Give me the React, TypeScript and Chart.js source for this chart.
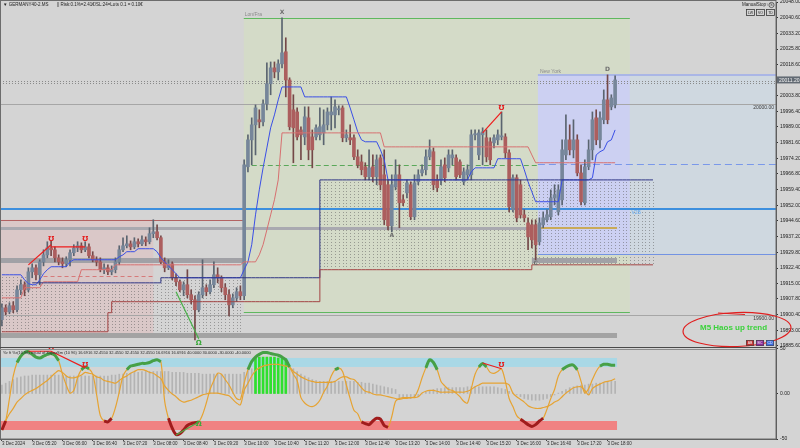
import React, { useEffect, useRef } from "react";
import { Chart, registerables } from "chart.js";

Chart.register(...registerables);

const FONT = '"Liberation Sans", Arial, sans-serif';

// ---------- time axis ----------
const timeTickLabels = ["3 Dec 2024","3 Dec 05:20","3 Dec 06:00","3 Dec 06:40","3 Dec 07:20","3 Dec 08:00","3 Dec 08:40","3 Dec 09:20","3 Dec 10:00","3 Dec 10:40","3 Dec 11:20","3 Dec 12:00","3 Dec 12:40","3 Dec 13:20","3 Dec 14:00","3 Dec 14:40","3 Dec 15:20","3 Dec 16:00","3 Dec 16:40","3 Dec 17:20","3 Dec 18:00"];
const barsPerTick = 8;
const slotCount = 205;

// ---------- M5 candles ----------
const openP = [
19898.0,19903.6,19901.7,19904.6,19902.7,19912.1,19914.5,19912.1,19920.6,19922.5,
19919.2,19925.3,19928.6,19931.9,19931.0,19927.2,19925.3,19924.4,19926.3,19929.6,
19931.9,19932.9,19931.0,19932.4,19928.2,19926.3,19925.3,19921.6,19922.5,19920.6,
19921.6,19925.3,19931.0,19932.9,19933.8,19932.4,19934.8,19933.8,19935.7,19934.8,
19938.6,19939.5,19936.7,19925.3,19922.5,19924.4,19917.8,19915.9,19912.1,19914.5,
19909.8,19907.4,19902.7,19909.8,19913.1,19911.2,19914.5,19919.2,19917.8,19913.1,
19909.8,19905.0,19908.3,19911.2,19909.3,19970.2,19982.9,19990.0,19992.4,19991.4,
19999.9,20009.4,20016.9,20015.0,20018.8,20024.5,20011.2,19997.1,19996.1,19987.6,
19984.3,19993.3,19984.3,19984.3,19985.3,19986.2,19990.0,19994.7,19994.7,19997.1,
19998.0,19983.9,19983.9,19983.9,19974.9,19972.5,19970.2,19965.5,19970.2,19965.5,
19974.4,19966.4,19961.7,19942.3,19960.7,19966.4,19954.6,19957.9,19961.7,19946.6,
19963.1,19967.3,19968.8,19974.9,19977.3,19964.0,19964.0,19971.1,19969.7,19974.4,
19974.4,19972.5,19963.1,19966.4,19966.4,19985.3,19975.8,19985.3,19983.9,19982.0,
19981.5,19982.9,19984.3,19984.3,19976.8,19949.9,19965.0,19961.7,19947.5,19943.7,
19942.8,19942.8,19934.8,19942.8,19945.2,19946.6,19955.5,19948.9,19954.6,19975.8,
19982.9,19978.2,19982.9,19967.3,19953.2,19970.2,19978.2,19993.3,19982.9,19992.4,
20001.8,19998.5,19999.4];
const highP = [
19905.5,19905.0,19906.0,19906.5,19914.0,19916.8,19915.9,19922.5,19924.4,19923.9,
19926.3,19931.0,19934.8,19935.2,19932.4,19928.6,19927.2,19927.7,19931.0,19933.4,
19934.8,19934.3,19934.8,19933.8,19930.1,19927.7,19927.2,19924.4,19923.9,19923.4,
19927.2,19932.9,19936.7,19937.6,19935.2,19936.7,19936.2,19937.6,19937.1,19941.4,
19945.2,19942.8,19937.6,19927.2,19926.3,19925.3,19919.7,19916.8,19915.9,19921.6,
19912.1,19909.3,19911.2,19926.3,19914.5,19916.8,19925.3,19922.5,19918.7,19915.0,
19912.1,19910.2,19913.1,19914.0,19973.5,19985.3,19993.3,19999.4,19997.1,20001.8,
20019.3,20019.7,20019.7,20020.7,20040.5,20031.1,20012.2,20004.2,19998.0,19989.1,
19998.5,19998.5,19987.6,19990.0,19998.0,19997.1,19998.0,20003.2,20001.8,19999.0,
19999.0,19987.6,19990.0,19985.3,19978.2,19975.8,19972.1,19978.2,19975.8,19975.8,
19975.8,19978.2,19964.0,19966.4,19973.5,19971.1,19957.0,19964.0,19963.1,19966.4,
19968.8,19971.1,19978.2,19982.9,19979.1,19966.4,19973.5,19974.4,19978.2,19978.2,
19975.8,19973.5,19969.7,19971.1,19987.6,19987.6,19987.6,19988.6,19987.6,19983.9,
19985.3,19987.6,19996.1,19985.8,19978.2,19966.4,19966.4,19964.0,19949.9,19946.1,
19945.2,19945.2,19946.1,19948.9,19949.9,19959.3,19961.7,19961.7,19982.9,19994.7,
19990.0,19992.4,19985.3,19971.1,19973.5,19982.9,19996.1,19997.1,19996.1,20006.5,
20013.6,20004.2,20013.1];
const lowP = [
19895.1,19900.3,19900.8,19901.3,19901.7,19909.8,19909.3,19911.2,19917.8,19916.8,
19914.5,19923.4,19927.2,19928.2,19925.3,19923.9,19922.5,19923.0,19923.4,19928.2,
19930.1,19929.6,19930.1,19927.2,19925.3,19923.4,19920.6,19919.7,19919.2,19919.2,
19920.1,19923.9,19930.1,19931.9,19931.0,19931.5,19932.4,19932.9,19932.9,19933.8,
19936.7,19935.7,19924.4,19920.6,19921.6,19916.8,19914.0,19911.2,19909.3,19908.3,
19905.5,19888.5,19901.7,19908.3,19909.3,19910.2,19913.1,19915.4,19911.2,19907.4,
19899.8,19903.6,19906.5,19907.4,19907.4,19967.8,19971.1,19975.8,19988.6,19989.5,
19997.1,20004.2,20012.2,20011.2,20016.9,20003.2,19987.6,19972.1,19982.9,19973.5,
19980.6,19973.5,19969.7,19982.9,19982.9,19980.6,19987.6,19987.6,19988.6,19994.7,
19982.0,19982.0,19980.6,19973.5,19969.7,19966.4,19964.0,19964.0,19963.1,19961.7,
19959.3,19942.8,19940.4,19939.5,19959.3,19941.4,19951.8,19955.5,19945.2,19945.2,
19961.7,19965.9,19966.4,19973.5,19959.3,19958.4,19961.7,19963.1,19967.8,19971.1,
19964.0,19965.0,19961.7,19964.0,19964.0,19982.9,19973.5,19971.1,19972.5,19971.1,
19979.1,19980.6,19982.9,19974.4,19948.9,19948.9,19944.2,19946.1,19944.2,19931.0,
19931.9,19926.3,19933.4,19941.4,19944.2,19945.2,19952.2,19947.5,19952.2,19973.5,
19975.8,19974.4,19965.9,19952.2,19952.2,19968.8,19973.5,19980.6,19979.1,19990.5,
19990.5,19997.1,19998.0];
const closeP = [
19903.6,19901.7,19904.6,19902.7,19912.1,19914.5,19912.1,19920.6,19922.5,19919.2,
19925.3,19928.6,19931.9,19931.0,19927.2,19925.3,19924.4,19926.3,19929.6,19931.9,
19932.9,19931.0,19932.4,19928.2,19926.3,19925.3,19921.6,19922.5,19920.6,19921.6,
19925.3,19931.0,19932.9,19933.8,19932.4,19934.8,19933.8,19935.7,19934.8,19938.6,
19939.5,19936.7,19925.3,19922.5,19924.4,19917.8,19915.9,19912.1,19914.5,19909.8,
19907.4,19902.7,19909.8,19913.1,19911.2,19914.5,19919.2,19917.8,19913.1,19909.8,
19905.0,19908.3,19911.2,19909.3,19971.1,19982.9,19990.0,19998.0,19991.4,19999.9,
20009.4,20016.9,20015.0,20018.8,20024.0,20011.2,19989.1,19988.6,19984.3,19985.3,
19993.8,19978.2,19978.2,19988.6,19989.1,19990.0,19996.1,19996.1,19998.5,19997.6,
19983.9,19985.3,19982.9,19974.9,19971.1,19968.8,19965.5,19969.7,19965.5,19973.5,
19961.7,19945.2,19942.3,19961.7,19966.4,19953.2,19953.2,19962.6,19946.6,19962.6,
19966.4,19968.8,19974.9,19978.2,19961.7,19960.3,19970.2,19965.0,19975.8,19975.8,
19965.5,19966.4,19967.8,19968.8,19985.3,19985.8,19986.2,19986.7,19974.9,19973.5,
19983.9,19985.3,19984.8,19976.8,19951.3,19965.0,19946.1,19947.5,19946.1,19937.1,
19935.7,19933.4,19943.7,19946.1,19947.5,19955.5,19957.0,19959.3,19978.2,19982.9,
19978.2,19982.9,19967.3,19953.7,19970.2,19978.2,19992.4,19982.9,19993.3,20001.8,
19992.4,20002.7,20011.2];

// ---------- trailing lines ----------
const blueTrail = [
19919.2,19919.2,19919.2,19919.2,19919.2,19919.2,19916.8,19915.0,19914.5,19914.5,
19916.8,19919.7,19921.6,19923.0,19923.0,19923.0,19923.0,19923.0,19925.3,19926.3,
19926.3,19926.3,19926.3,19926.3,19926.3,19926.3,19926.3,19926.3,19926.3,19926.3,
19926.3,19927.7,19928.6,19930.1,19930.1,19930.1,19931.5,19931.5,19931.5,19931.5,
19931.5,19930.1,19927.2,19925.3,19923.4,19921.6,19919.7,19917.8,19917.8,19917.8,
19917.8,19917.8,19917.8,19917.8,19917.8,19917.8,19917.8,19917.8,19917.8,19917.8,
19917.8,19917.8,19917.8,19917.8,19921.6,19925.3,19933.4,19947.5,19959.3,19969.7,
19979.1,19988.6,19994.7,20001.8,20007.9,20007.9,20007.9,20007.9,20007.9,20007.9,
20003.2,20003.2,20003.2,20003.2,20003.2,20003.2,20003.2,20003.2,20003.2,20003.2,
20003.2,20003.2,19998.0,19992.4,19986.7,19982.9,19982.0,19982.0,19982.0,19982.0,
19978.2,19973.5,19964.0,19964.0,19964.0,19964.0,19964.0,19964.0,19964.0,19964.0,
19964.0,19964.0,19964.0,19964.0,19964.0,19964.0,19964.0,19964.0,19964.0,19964.0,
19964.0,19964.0,19964.0,19964.0,19967.8,19969.7,19969.7,19969.7,19969.7,19969.7,
19969.7,19974.0,19974.0,19974.0,19974.0,19974.0,19974.0,19974.0,19968.8,19963.1,
19958.4,19953.7,19953.7,19953.7,19953.7,19953.7,19953.7,19953.7,19964.0,19964.0,
19964.0,19964.0,19964.0,19964.0,19964.0,19964.0,19965.0,19975.8,19977.3,19978.2,
19982.0,19982.9,19987.6];
const salmonTrail = [
19908.3,19908.3,19908.3,19908.3,19908.3,19908.3,19913.1,19913.1,19913.1,19913.1,
19913.1,19915.9,19915.9,19915.9,19915.9,19915.9,19915.9,19915.9,19915.9,19915.9,
19915.9,19921.6,19921.6,19921.6,19921.6,19921.6,19921.6,19921.6,19921.6,19921.6,
19923.9,19923.9,19923.9,19923.9,19923.9,19923.9,19923.9,19923.9,19923.9,19923.9,
19923.9,19923.9,19923.9,19923.9,19923.9,19923.9,19923.9,19923.9,19923.9,19923.9,
19923.9,19923.9,19923.9,19923.9,19923.9,19923.9,19923.9,19923.9,19923.9,19923.9,
19923.9,19923.9,19923.9,19923.9,19925.3,19925.3,19925.3,19925.3,19928.6,19933.4,
19940.4,19947.5,19954.6,19964.0,19986.2,19986.2,19986.2,19986.2,19986.2,19986.2,
19986.2,19986.2,19986.2,19986.2,19986.2,19986.2,19986.2,19986.2,19986.2,19986.2,
19986.2,19986.2,19986.2,19986.2,19986.2,19986.2,19986.2,19986.2,19986.2,19986.2,
19986.2,19979.6,19979.6,19979.6,19979.6,19979.6,19979.6,19979.6,19979.6,19979.6,
19979.6,19979.6,19979.6,19979.6,19979.6,19979.6,19979.6,19979.6,19979.6,19979.6,
19979.6,19979.6,19979.6,19979.6,19979.6,19979.6,19979.6,19979.6,19979.6,19979.6,
19979.6,19979.6,19979.6,19979.6,19979.6,19979.6,19979.6,19979.6,19979.6,19979.6,
19975.8,19972.1,19972.1,19972.1,19972.1,19972.1,19972.1,19972.1,19972.1,19972.1,
19972.1,19972.1,19972.1,19972.1,19972.1,19972.1,19972.1,19972.1,19972.1,19972.1,
19972.1,19972.1,19972.1];
// stepped range boundaries (bar index ranges)
const lowerLevels = [
  { from: 0, to: 27, price: 19892.3 },
  { from: 28, to: 28, price: 19901.3 },
  { from: 29, to: 83, price: 19906.5 },
  { from: 84, to: 139, price: 19921.6 },
  { from: 140, to: 172, price: 19923.9 },
];
const rangeTopLevels = [
  { from: 8, to: 41, price: 19915.4 },
  { from: 42, to: 83, price: 19917.8 },
  { from: 84, to: 172, price: 19964.0 },
];

// ---------- price axis & levels ----------
const priceTicks = [20048.0,20040.6,20033.2,20025.8,20018.6,20003.8,19996.4,19989.0,19981.6,19974.2,19966.8,19959.4,19952.0,19944.6,19937.2,19929.8,19922.4,19915.0,19907.8,19900.4,19893.0,19885.6];
const priceMin = 19885.1;
const priceMax = 20048.0;
const lastPrice = 20011.2;
const bidAskLines = [20010.8, 20009.6];
const roundLevels = [20000, 19900];
const v2bLevel = 19950.4;
const lonOpenLevel = 19971.1;
const nyOpenLevel = 19971.6;
const midBandLevel = 19941.4;
const lowBandLevel = 19926.3;
const floorBandLevel = 19890.9;
const asiaTopLevel = 19945.2;
const asiaMidLevel = 19918.7;

// sessions (bar-index extents, price extents)
const asiaBox = { from: -0.5, to: 40, top: 19945.2, bottom: 19890.9 };
const lonBox = { from: 63.9, to: 165.9, top: 20040.5, bottom: 19901.7 };
const nyBox = { from: 141.6, to: 165.9, top: 20013.6, bottom: 19929.1 };

// patterns / signals
const waveLabels = [
  { text: "X", bar: 74, side: "high" },
  { text: "A", bar: 103, side: "low" },
  { text: "C", bar: 141, side: "low" },
  { text: "D", bar: 160, side: "high" },
];
const priceDivRed = [[7, 19923.9], [13, 19933.4]];
const priceDivRedFlat = [[13, 19932.4], [22, 19932.4]];
const priceDivRed2 = [[127, 19986.2], [132, 19996.1]];
const priceDivGreen = [[46, 19911.2], [52, 19889.0]];
const priceTopMarks = [[13, 19936.2], [22, 19936.2], [132, 19997.8]];
const priceBottomMarks = [[52, 19886.9]];

// ---------- oscillator ----------
const oscFast = [
-40,-30,-5,20,35,42,46,47,44,41,
40,42,44,45,43,37,22,10,1,4,
18,27,30,28,22,0,-24,-30,-31,-27,
-15,2,20,27,31,32,33,34,34,35,
37,38,36,-8,-27,-38,-45,-44,-40,-35,
-33,-32,-31,-23,-10,5,15,23,22,16,
10,2,-5,-6,12,27,36,41,44,46,
46,45,44,43,41,38,30,22,15,-4,
-10,-13,-14,-12,-7,2,9,20,27,29,
25,10,-5,-18,-22,-31,-33,-34,-30,-27,
-28,-35,-37,-25,-8,-5,-4,-4,-4,-3,
5,18,29,38,35,27,14,9,5,4,
1,-3,-8,-10,6,22,30,34,30,24,
23,25,28,14,-5,-14,-24,-28,-31,-34,
-36,-34,-30,-27,-17,-5,5,20,27,30,
32,32,27,14,1,6,16,25,31,33,
33,32,32];
const oscSlow = [
-40,-30,-22,-16,-9,-5,-1,2,4,6,
9,12,15,19,23,26,24,20,18,18,
19,21,24,23,22,19,18,15,14,13,
12,15,18,20,23,25,27,27,26,24,
23,20,17,9,4,0,-3,-7,-9,-8,
-7,-5,-3,-1,0,1,1,1,0,-1,
-2,-6,-10,-12,4,12,20,26,29,31,
32,33,33,33,32,31,30,25,22,19,
17,15,14,13,13,13,13,13,14,17,
19,19,17,16,12,7,3,2,0,-1,
-1,-2,-3,-4,-5,-6,-5,-5,-4,-4,
-3,1,3,4,4,3,2,2,2,2,
2,2,2,3,5,8,10,12,12,12,
12,12,12,12,10,1,-3,-6,-9,-13,
-15,-16,-16,-15,-14,-12,-9,-7,-3,1,
4,7,8,8,4,-1,6,9,11,13,
14,15,17];
const oscHist = [
10,12,14,16,18,19,20,20,21,21,21,
21,21,21,21,21,21,20,20,20,20,20,20,20,20,20,
20,20,20,21,21,22,22,23,23,24,24,25,25,25,25,
25,25,25,25,24,24,24,24,23,23,23,23,22,22,22,22,22,22,22,22,22,22,22,
24,26,28,30,31,32,33,33,33,33,32,31,30,
28,25,22,20,18,16,15,14,14,14,14,14,14,14,14,14,14,13,13,12,12,11,10,9,8,7,6,5,
-4,-5,-5,-5,-4,-3,
0,2,4,5,6,6,7,7,7,7,7,7,8,8,8,8,8,8,8,8,7,6,5,3,
1,-1,-3,-5,-6,-7,-7,-7,-6,-5,-3,-1,
1,3,5,7,8,9,10,10,11,11,12,12,13,13,14,14];
const strongFrom = 67;
const strongBars = [40, 41, 41, 41, 41, 41, 40, 40, 39];
const oscTicks = [50, 0, -50];
const oscUpperBand = [30, 40];
const oscLowerBand = [-30, -40];
const oscMin = -50;
const oscMax = 52.2;
const oscDivRed = [[7, 47.5], [13, 47.5], [22, 29]];
const oscDivRed2 = [[127, 34.4], [132, 28]];
const oscDivGreen = [[46, -45.6], [52, -31]];
const oscTopMarks = [[13, 50.5], [22, 32.5], [132, 32.5]];
const oscBottomMarks = [[52, -34]];
const oscCaption = "%r ft %r(10,96) equal of SuperSm (10 96) 16.6916 32.4550 32.4550 32.4550 32.4550 16.6916 16.6916 40.0000 30.0000 -30.0000 -40.0000";

// ---------- derived tables for the library ----------
const categories = Array.from({ length: slotCount }, (_, i) =>
  i % barsPerTick === 0 && i / barsPerTick < timeTickLabels.length ? timeTickLabels[i / barsPerTick] : ""
);
const tickIdx = timeTickLabels.map((_, k) => k * barsPerTick);
const fromLevels = (levels: any[]) => {
  const arr: (number | null)[] = Array(173).fill(null);
  levels.forEach((l) => { for (let i = l.from; i <= l.to; i++) arr[i] = l.price; });
  return arr;
};
const lowerStep = fromLevels(lowerLevels);
const rangeTop = fromLevels(rangeTopLevels);
const isBull = openP.map((o, i) => closeP[i] >= o);
const strongArr: (number | null)[] = oscFast.map(() => null);
strongBars.forEach((v, k) => (strongArr[strongFrom + k] = v));

const mtPlugin: any = {
  id: "mt",
  beforeDraw(chart: any) {
    const { ctx } = chart;
    ctx.save();
    ctx.fillStyle = "#d4d4d4";
    ctx.fillRect(0, 0, chart.width, chart.height);
    ctx.restore();
  },
  beforeDatasetsDraw(chart: any) {
    const { ctx, chartArea } = chart;
    const xs = chart.scales.x, ys = chart.scales.y, yo = chart.scales.yo;
    const X = (i: number) => xs.getPixelForValue(i);
    const Y = (p: number) => ys.getPixelForValue(p);
    const O = (v: number) => yo.getPixelForValue(v);
    const L = chartArea.left, R = chartArea.right;
    const endI = slotCount - 0.5;

    ctx.save();
    ctx.beginPath();
    ctx.rect(L, ys.top, R - L, ys.bottom - ys.top);
    ctx.clip();
    const box = (b: any, fill: string) => {
      const x0 = X(b.from), x1 = X(b.to), y0 = Y(b.top), y1 = Y(b.bottom);
      ctx.fillStyle = fill;
      ctx.fillRect(x0, y0, x1 - x0, y1 - y0);
    };
    box(asiaBox, "#dac8c8");
    box(lonBox, "#d4dbc8");
    box(nyBox, "#ccd0f2");
    box({ from: nyBox.to, to: endI, top: nyBox.top, bottom: nyBox.bottom }, "#cfd8e0");

    // dotted range zones
    ctx.fillStyle = "rgba(90,90,90,0.5)";
    for (let i = 0; i <= 172; i++) {
      let top: number, bot: number;
      if (i <= 63) { top = Y(rangeTop[i] ?? 19919.2); bot = Y(19891.5); }
      else if (i >= 84) { top = Y(rangeTop[i] as number); bot = Y(lowerStep[i] as number); }
      else continue;
      const x = Math.round(X(i));
      for (let y = top + 2; y < bot - 1; y += 3) ctx.fillRect(x, Math.round(y), 1, 1);
    }

    const hline = (p: number, from: number, to: number, color: string, w: number, dash: number[] = []) => {
      const y = Math.round(Y(p)) + (w % 2 ? 0.5 : 0);
      ctx.beginPath();
      ctx.strokeStyle = color;
      ctx.lineWidth = w;
      ctx.setLineDash(dash);
      ctx.moveTo(X(from), y);
      ctx.lineTo(X(to), y);
      ctx.stroke();
      ctx.setLineDash([]);
    };
    roundLevels.forEach((p) => hline(p, -0.5, endI, "#a6a6a6", 1));
    bidAskLines.forEach((p) => hline(p, -0.5, endI, "#8a8a8a", 1, [1, 2]));
    hline(floorBandLevel, -0.5, 162.5, "#a3a3a3", 5);
    hline(lowBandLevel, -0.5, 64, "#a1a1a6", 5);
    hline(lowBandLevel, 140, 162.5, "#a1a1a6", 5);
    hline(midBandLevel, -0.5, 140, "#a9a9b0", 3);
    hline(midBandLevel, 141.6, 162.5, "#c9aa58", 2);
    hline(asiaTopLevel, -0.5, 64, "#b36262", 1);
    hline(asiaMidLevel, 11, 40, "#d67a7a", 1, [4, 3]);
    hline(v2bLevel, -0.5, endI, "#3d8fde", 2);
    hline(lonOpenLevel, lonBox.from, nyBox.from, "#5aa85a", 1, [5, 3]);
    hline(nyOpenLevel, nyBox.from, endI, "#7a98ea", 1, [7, 4]);
    hline(lonBox.top, lonBox.from, lonBox.to, "#5fb85f", 1);
    hline(lonBox.bottom, lonBox.from, lonBox.to, "#5fb85f", 1);
    hline(nyBox.top, nyBox.from, endI, "#aab6e6", 2);
    hline(nyBox.bottom, nyBox.from, endI, "#7393e3", 1);
    ctx.restore();

    // oscillator bands
    ctx.save();
    ctx.beginPath();
    ctx.rect(L, yo.top, R - L, yo.bottom - yo.top);
    ctx.clip();
    const band = (b: number[], color: string) => {
      const y0 = O(b[1]), y1 = O(b[0]);
      ctx.fillStyle = color;
      ctx.fillRect(X(-0.5), Math.min(y0, y1), X(162.5) - X(-0.5), Math.abs(y1 - y0));
    };
    band(oscUpperBand, "#a9d8e6");
    band(oscLowerBand, "#f08282");
    ctx.restore();
  },
  afterDatasetsDraw(chart: any) {
    const { ctx, chartArea } = chart;
    const xs = chart.scales.x, ys = chart.scales.y, yo = chart.scales.yo;
    const X = (i: number) => xs.getPixelForValue(i);
    const Y = (p: number) => ys.getPixelForValue(p);
    const O = (v: number) => yo.getPixelForValue(v);
    const poly = (pts: number[][], conv: (v: number) => number, color: string) => {
      ctx.beginPath();
      ctx.strokeStyle = color;
      ctx.lineWidth = 1.2;
      pts.forEach((p, k) => (k ? ctx.lineTo(X(p[0]), conv(p[1])) : ctx.moveTo(X(p[0]), conv(p[1]))));
      ctx.stroke();
    };
    const glyph = (t: string, x: number, y: number, color: string, size: number, bold = true) => {
      ctx.font = `${bold ? "bold " : ""}${size}px "DejaVu Sans", ${FONT}`;
      ctx.fillStyle = color;
      ctx.textAlign = "center";
      ctx.textBaseline = "middle";
      ctx.fillText(t, x, y);
    };
    ctx.save();
    ctx.beginPath();
    ctx.rect(chartArea.left, ys.top, chartArea.right - chartArea.left, ys.bottom - ys.top);
    ctx.clip();
    poly(priceDivRed, Y, "#ee1c1c");
    poly(priceDivRedFlat, Y, "#ee1c1c");
    poly(priceDivRed2, Y, "#ee1c1c");
    poly(priceDivGreen, Y, "#48b048");
    priceTopMarks.forEach((m) => glyph("\u2127", X(m[0]), Y(m[1]), "#e41e1e", 7));
    priceBottomMarks.forEach((m) => glyph("\u03A9", X(m[0]), Y(m[1]), "#3aa83a", 7));
    waveLabels.forEach((w) => {
      const i = w.bar;
      const y = w.side === "high" ? Y(highP[i]) - 5 : Y(lowP[i]) + 4;
      glyph(w.text, X(i), y, "#6e6e6e", 6);
    });
    ctx.font = `5px ${FONT}`;
    ctx.fillStyle = "#8a8a8a";
    ctx.textAlign = "left";
    ctx.textBaseline = "bottom";
    ctx.fillText("Lon/Fra", X(lonBox.from) + 1, Y(lonBox.top) - 1);
    ctx.fillText("New York", X(nyBox.from) + 2, Y(nyBox.top) - 1);
    ctx.fillStyle = "#62a8ee";
    ctx.textBaseline = "top";
    ctx.fillText("V2B", X(166.3), Y(v2bLevel) + 1);
    ctx.fillStyle = "#3a3a3a";
    ctx.textAlign = "right";
    roundLevels.forEach((p) => ctx.fillText(p.toFixed(2), chartArea.right - 2, Y(p) + 1));
    ctx.restore();

    ctx.save();
    ctx.beginPath();
    ctx.rect(chartArea.left, yo.top, chartArea.right - chartArea.left, yo.bottom - yo.top);
    ctx.clip();
    poly(oscDivRed, O, "#ee1c1c");
    poly(oscDivRed2, O, "#ee1c1c");
    poly(oscDivGreen, O, "#48b048");
    oscTopMarks.forEach((m) => glyph("\u2127", X(m[0]), O(m[1]), "#e41e1e", 7));
    oscBottomMarks.forEach((m) => glyph("\u03A9", X(m[0]), O(m[1]), "#3aa83a", 7));
    ctx.font = `4px ${FONT}`;
    ctx.fillStyle = "#2a2a2a";
    ctx.textAlign = "left";
    ctx.textBaseline = "middle";
    ctx.fillText(oscCaption, chartArea.left + 3, yo.top + 6);
    ctx.restore();
  },
  afterDraw(chart: any) {
    const { ctx, chartArea } = chart;
    const ys = chart.scales.y;
    ctx.save();
    // frame and pane separator
    ctx.strokeStyle = "#6c6c6c";
    ctx.lineWidth = 1;
    ctx.strokeRect(0.5, 0.5, chartArea.right - 0.5, chartArea.bottom - 0.5);
    ctx.strokeStyle = "#4a4a4a";
    ctx.beginPath();
    ctx.moveTo(0, Math.round(ys.bottom) + 0.5);
    ctx.lineTo(chartArea.right, Math.round(ys.bottom) + 0.5);
    ctx.stroke();
    ctx.strokeStyle = "#8c8c8c";
    ctx.beginPath();
    ctx.moveTo(0, Math.round(ys.bottom) + 2.5);
    ctx.lineTo(chartArea.right, Math.round(ys.bottom) + 2.5);
    ctx.stroke();

    // header texts
    ctx.font = `4.5px ${FONT}`;
    ctx.fillStyle = "#1e1e1e";
    ctx.textAlign = "left";
    ctx.textBaseline = "middle";
    ctx.fillText("\u25BC GERMANY40-2.MS", 3, 5);
    ctx.fillText("|| Risk:0.1%=2.41\u20AC/SL:24=Lots 0.1 = 0.10\u20AC", 57, 5);
    ctx.fillText("ManualStop\u2191", 742, 5);
    ctx.beginPath();
    ctx.strokeStyle = "#333";
    ctx.lineWidth = 0.7;
    ctx.arc(771.5, 5, 2.6, 0, Math.PI * 2);
    ctx.stroke();
    ctx.font = `3.5px ${FONT}`;
    ctx.textAlign = "center";
    ctx.fillText("S", 771.5, 5.2);
    ["LW", "VO", "TD"].forEach((t, k) => {
      const x = 746 + k * 10;
      ctx.strokeStyle = "#3a3a3a";
      ctx.lineWidth = 0.8;
      ctx.strokeRect(x + 0.5, 9.5, 8, 6);
      ctx.fillStyle = "#1e1e1e";
      ctx.fillText(t, x + 4.5, 12.8);
    });

    // current price box on axis
    const py = ys.getPixelForValue(lastPrice);
    ctx.fillStyle = "#626a73";
    ctx.fillRect(chartArea.right + 1, py - 3.5, 23, 7);
    ctx.font = `5px ${FONT}`;
    ctx.fillStyle = "#f4f4f4";
    ctx.textAlign = "left";
    ctx.fillText(lastPrice.toFixed(2), chartArea.right + 3, py + 0.3);

    // annotation ellipse and text
    ctx.beginPath();
    ctx.strokeStyle = "#e01e1e";
    ctx.lineWidth = 1.2;
    ctx.ellipse(737, 329.5, 54, 17, -0.04, 0, Math.PI * 2);
    ctx.stroke();
    ctx.beginPath();
    ctx.moveTo(718, 313);
    ctx.lineTo(745, 314.5);
    ctx.stroke();
    ctx.font = `bold 8px ${FONT}`;
    ctx.fillStyle = "#3bd23b";
    ctx.textAlign = "left";
    ctx.fillText("M5 Haos up trend", 700, 328);
    [["AB", "#c43030"], ["BC", "#8c2a9c"], ["CD", "#3f6fe6"]].forEach((b, k) => {
      const x = 746 + k * 10;
      ctx.fillStyle = b[1];
      ctx.fillRect(x, 340, 8, 6);
      ctx.strokeStyle = "#444";
      ctx.lineWidth = 0.6;
      ctx.strokeRect(x + 0.3, 340.3, 7.4, 5.4);
      ctx.fillStyle = "#f0f0f0";
      ctx.font = `3.5px ${FONT}`;
      ctx.textAlign = "center";
      ctx.fillText(b[0], x + 4, 343.2);
    });
    ctx.restore();
  },
};

export default function App() {
  const ref = useRef<HTMLCanvasElement>(null);
  useEffect(() => {
    document.body.style.margin = "0";
    const canvas = ref.current as HTMLCanvasElement;
    const bullBody = "#76869a", bearBody = "#ac5e5e";
    const chart = new Chart(canvas, {
      type: "bar",
      data: {
        labels: categories,
        datasets: [
          // oscillator
          { type: "bar", yAxisID: "yo", data: oscHist, backgroundColor: "#b3b3b3", barThickness: 1, grouped: false, order: 12 } as any,
          { type: "bar", yAxisID: "yo", data: strongArr, backgroundColor: "#2ee02e", barThickness: 2, grouped: false, order: 11 } as any,
          { type: "line", yAxisID: "yo", data: oscSlow, borderColor: "#e6a332", borderWidth: 1.2, pointRadius: 0, tension: 0.3, order: 4 } as any,
          { type: "line", yAxisID: "yo", data: oscFast, borderColor: "#e6a332", borderWidth: 1.2, pointRadius: 0, tension: 0.3, order: 3 } as any,
          { type: "line", yAxisID: "yo", data: oscFast.map((v) => (v >= 26 ? v : null)), borderColor: "#46a046", borderWidth: 3, pointRadius: 0, tension: 0.3, order: 2 } as any,
          { type: "line", yAxisID: "yo", data: oscFast.map((v) => (v <= -26 ? v : null)), borderColor: "#a01c1c", borderWidth: 3, pointRadius: 0, tension: 0.3, order: 2 } as any,
          // candles
          { type: "bar", yAxisID: "y", data: lowP.map((l, i) => [l, highP[i]]), backgroundColor: isBull.map((b) => (b ? "#5a6470" : "#744848")), barThickness: 1, grouped: false, order: 10 } as any,
          { type: "bar", yAxisID: "y", data: openP.map((o, i) => [o, closeP[i]]), backgroundColor: isBull.map((b) => (b ? bullBody : bearBody)), barThickness: 3, grouped: false, minBarLength: 1, order: 9 } as any,
          // trailing / range lines
          { type: "line", yAxisID: "y", data: lowerStep, borderColor: "#a34444", borderWidth: 1, pointRadius: 0, stepped: true, order: 1 } as any,
          { type: "line", yAxisID: "y", data: rangeTop, borderColor: "#2f3585", borderWidth: 1, pointRadius: 0, stepped: true, order: 1 } as any,
          { type: "line", yAxisID: "y", data: salmonTrail, borderColor: "#d77070", borderWidth: 1, pointRadius: 0, order: 1 } as any,
          { type: "line", yAxisID: "y", data: blueTrail, borderColor: "#3a4fe6", borderWidth: 1, pointRadius: 0, order: 1 } as any,
        ],
      },
      options: {
        responsive: false,
        devicePixelRatio: 1,
        animation: false,
        events: [],
        layout: { padding: { top: 2, left: 0, right: 0, bottom: 0 } },
        plugins: { legend: { display: false }, tooltip: { enabled: false } },
        scales: {
          x: {
            type: "category",
            offset: true,
            grid: { display: true, drawOnChartArea: false, drawTicks: true, tickLength: 2, color: "#444", offset: false },
            border: { display: true, color: "#555" },
            ticks: { autoSkip: false, maxRotation: 0, minRotation: 0, align: "start", padding: 0, color: "#2a2a2a", font: { size: 4.5, family: FONT } },
            afterBuildTicks: (s: any) => { s.ticks = tickIdx.map((v) => ({ value: v })); },
            afterFit: (s: any) => { s.height = 9; s.paddingLeft = 0; s.paddingRight = 0; },
          },
          y: {
            type: "linear",
            position: "right",
            stack: "pane",
            stackWeight: 345,
            min: priceMin,
            max: priceMax,
            grid: { drawOnChartArea: false, drawTicks: true, tickLength: 2, color: "#333" },
            border: { display: true, color: "#505050" },
            ticks: { autoSkip: false, padding: 2, color: "#222", font: { size: 5, family: FONT }, callback: (v: any) => Number(v).toFixed(2) },
            afterBuildTicks: (s: any) => { s.ticks = priceTicks.map((v) => ({ value: v })); },
            afterFit: (s: any) => { s.width = 24; s.paddingTop = 0; s.paddingBottom = 0; },
          },
          yo: {
            type: "linear",
            position: "right",
            stack: "pane",
            stackWeight: 92,
            min: oscMin,
            max: oscMax,
            grid: { drawOnChartArea: false, drawTicks: true, tickLength: 2, color: "#333" },
            border: { display: true, color: "#505050" },
            ticks: { autoSkip: false, padding: 2, color: "#222", font: { size: 5, family: FONT }, callback: (v: any) => (Number(v) === 0 ? "0.00" : String(v)) },
            afterBuildTicks: (s: any) => { s.ticks = oscTicks.map((v) => ({ value: v })); },
            afterFit: (s: any) => { s.width = 24; s.paddingTop = 0; s.paddingBottom = 0; },
          },
        },
      } as any,
      plugins: [mtPlugin],
    });
    return () => chart.destroy();
  }, []);
  return <canvas ref={ref} width={800} height={448} style={{ display: "block", width: 800, height: 448 }} />;
}
